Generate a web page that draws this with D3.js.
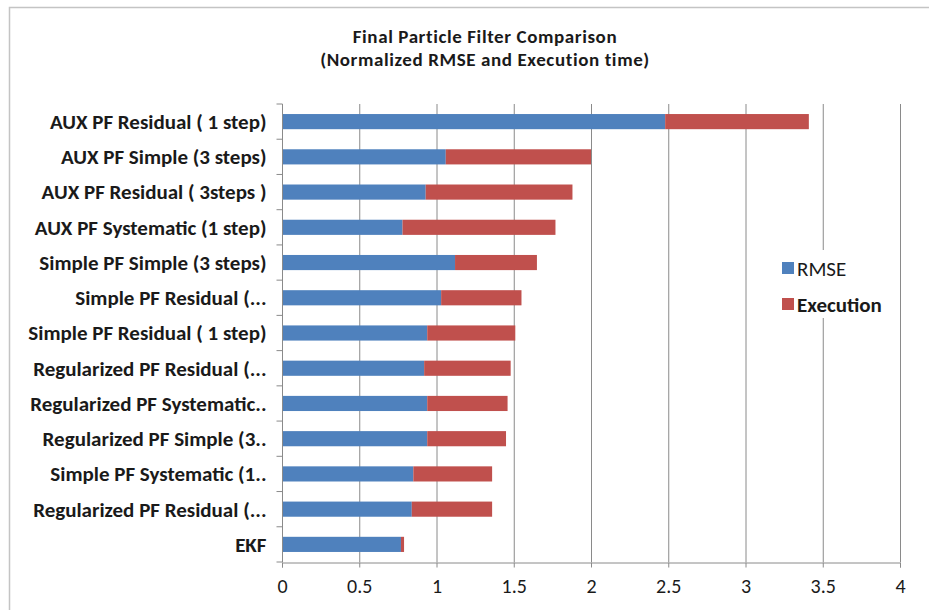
<!DOCTYPE html>
<html>
<head>
<meta charset="utf-8">
<script src="https://cdn.jsdelivr.net/npm/d3@7"></script>
<style>
  html, body { margin: 0; padding: 0; background: #ffffff; }
  svg { display: block; }
</style>
</head>
<body>
<svg id="chart" width="929" height="610"></svg>
<script>
// Filter variants, listed top to bottom
const categories = [
  "AUX PF Residual ( 1 step)",
  "AUX PF Simple (3 steps)",
  "AUX PF Residual ( 3steps )",
  "AUX PF Systematic (1 step)",
  "Simple PF Simple (3 steps)",
  "Simple PF Residual (...",
  "Simple PF Residual ( 1 step)",
  "Regularized PF Residual (...",
  "Regularized PF Systematic..",
  "Regularized PF Simple (3..",
  "Simple PF Systematic (1..",
  "Regularized PF Residual (...",
  "EKF"
];
// Normalized RMSE
const rmse = [2.48, 1.06, 0.93, 0.78, 1.12, 1.03, 0.94, 0.92, 0.94, 0.94, 0.85, 0.84, 0.77];
// Normalized execution time
const execution = [0.93, 0.94, 0.95, 0.99, 0.53, 0.52, 0.57, 0.56, 0.52, 0.51, 0.51, 0.52, 0.02];
const seriesNames = ["RMSE", "Execution"];
const seriesColors = ["#4F81BD", "#C0504D"];
const xTicks = [0, 0.5, 1, 1.5, 2, 2.5, 3, 3.5, 4];
const titleLines = ["Final Particle Filter Comparison", "(Normalized RMSE and Execution time)"];

const svg = d3.select("#chart");
const font = "Calibri, Carlito, 'Liberation Sans', Arial, sans-serif";

// chart frame
svg.append("rect")
  .attr("x", 9.5).attr("y", 7.5)
  .attr("width", 940).attr("height", 640)
  .attr("fill", "#ffffff")
  .attr("stroke", "#c4c4c4")
  .attr("stroke-width", 1.5);

const plot = { left: 282, right: 900, top: 104, bottom: 562 };

const x = d3.scaleLinear().domain([0, 4]).range([plot.left, plot.right]);
const y = d3.scaleBand()
  .domain(d3.range(categories.length))
  .range([plot.top, plot.bottom])
  .paddingInner(0.57).paddingOuter(0.285);

// vertical gridlines
svg.append("g")
  .selectAll("line")
  .data(xTicks.slice(1))
  .join("line")
  .attr("x1", d => x(d) + 0.5).attr("x2", d => x(d) + 0.5)
  .attr("y1", plot.top).attr("y2", plot.bottom)
  .attr("stroke", "#8a8a8a").attr("stroke-width", 1);

// stacked bars
const rows = categories.map((c, i) => ({ i, rmse: rmse[i], execution: execution[i] }));
const stack = d3.stack().keys(["rmse", "execution"]);
const layers = stack(rows);

svg.append("g")
  .selectAll("g")
  .data(layers)
  .join("g")
  .attr("fill", (d, k) => seriesColors[k])
  .selectAll("rect")
  .data(d => d)
  .join("rect")
  .attr("x", d => x(d[0]))
  .attr("width", d => x(d[1]) - x(d[0]))
  .attr("y", d => y(d.data.i))
  .attr("height", y.bandwidth());

// x axis
const xAxis = d3.axisBottom(x)
  .tickValues(xTicks)
  .tickFormat(d3.format("~g"))
  .tickSize(5)
  .tickPadding(11);
const gx = svg.append("g")
  .attr("transform", `translate(0,${plot.bottom + 0.5})`)
  .call(xAxis);
gx.select(".domain").attr("stroke", "#8a8a8a");
gx.selectAll(".tick line").attr("stroke", "#8a8a8a");
gx.selectAll(".tick text")
  .attr("fill", "#1a1a1a")
  .style("font-family", font)
  .style("font-size", "20px");

// y axis: ticks at band boundaries
const gy = svg.append("g").attr("transform", `translate(${plot.left + 0.5},0)`);
gy.append("line")
  .attr("x1", 0).attr("x2", 0)
  .attr("y1", plot.top).attr("y2", plot.bottom)
  .attr("stroke", "#8a8a8a");
const step = y.step();
gy.selectAll("line.tk")
  .data(d3.range(categories.length + 1))
  .join("line")
  .attr("class", "tk")
  .attr("x1", -6).attr("x2", 0)
  .attr("y1", k => plot.top + k * step)
  .attr("y2", k => plot.top + k * step)
  .attr("stroke", "#8a8a8a");
gy.selectAll("text")
  .data(categories)
  .join("text")
  .attr("x", -16)
  .attr("y", (d, i) => y(i) + y.bandwidth() / 2)
  .attr("dy", "0.35em")
  .attr("text-anchor", "end")
  .attr("fill", "#1a1a1a")
  .style("font-family", font)
  .style("font-weight", "bold")
  .style("font-size", "21px")
  .text(d => d);

// title
svg.append("g")
  .selectAll("text")
  .data(titleLines)
  .join("text")
  .attr("x", 485)
  .attr("y", (d, i) => 43 + i * 23)
  .attr("text-anchor", "middle")
  .attr("fill", "#1a1a1a")
  .style("font-family", font)
  .style("font-weight", "bold")
  .style("font-size", "19px")
  .style("letter-spacing", "0.6px")
  .text(d => d);

// legend
const legend = svg.append("g");
legend.append("rect")
  .attr("x", 772).attr("y", 250)
  .attr("width", 122).attr("height", 68)
  .attr("fill", "#ffffff");
const items = legend.selectAll("g")
  .data(seriesNames)
  .join("g")
  .attr("transform", (d, i) => `translate(782,${262 + i * 36})`);
items.append("rect")
  .attr("width", 12).attr("height", 12)
  .attr("fill", (d, i) => seriesColors[i]);
items.append("text")
  .attr("x", 15).attr("y", 6)
  .attr("dy", "0.36em")
  .attr("fill", "#1a1a1a")
  .style("font-family", font)
  .style("font-size", "21px")
  .style("font-weight", (d, i) => i === 1 ? "bold" : "normal")
  .text(d => d);
</script>
</body>
</html>
